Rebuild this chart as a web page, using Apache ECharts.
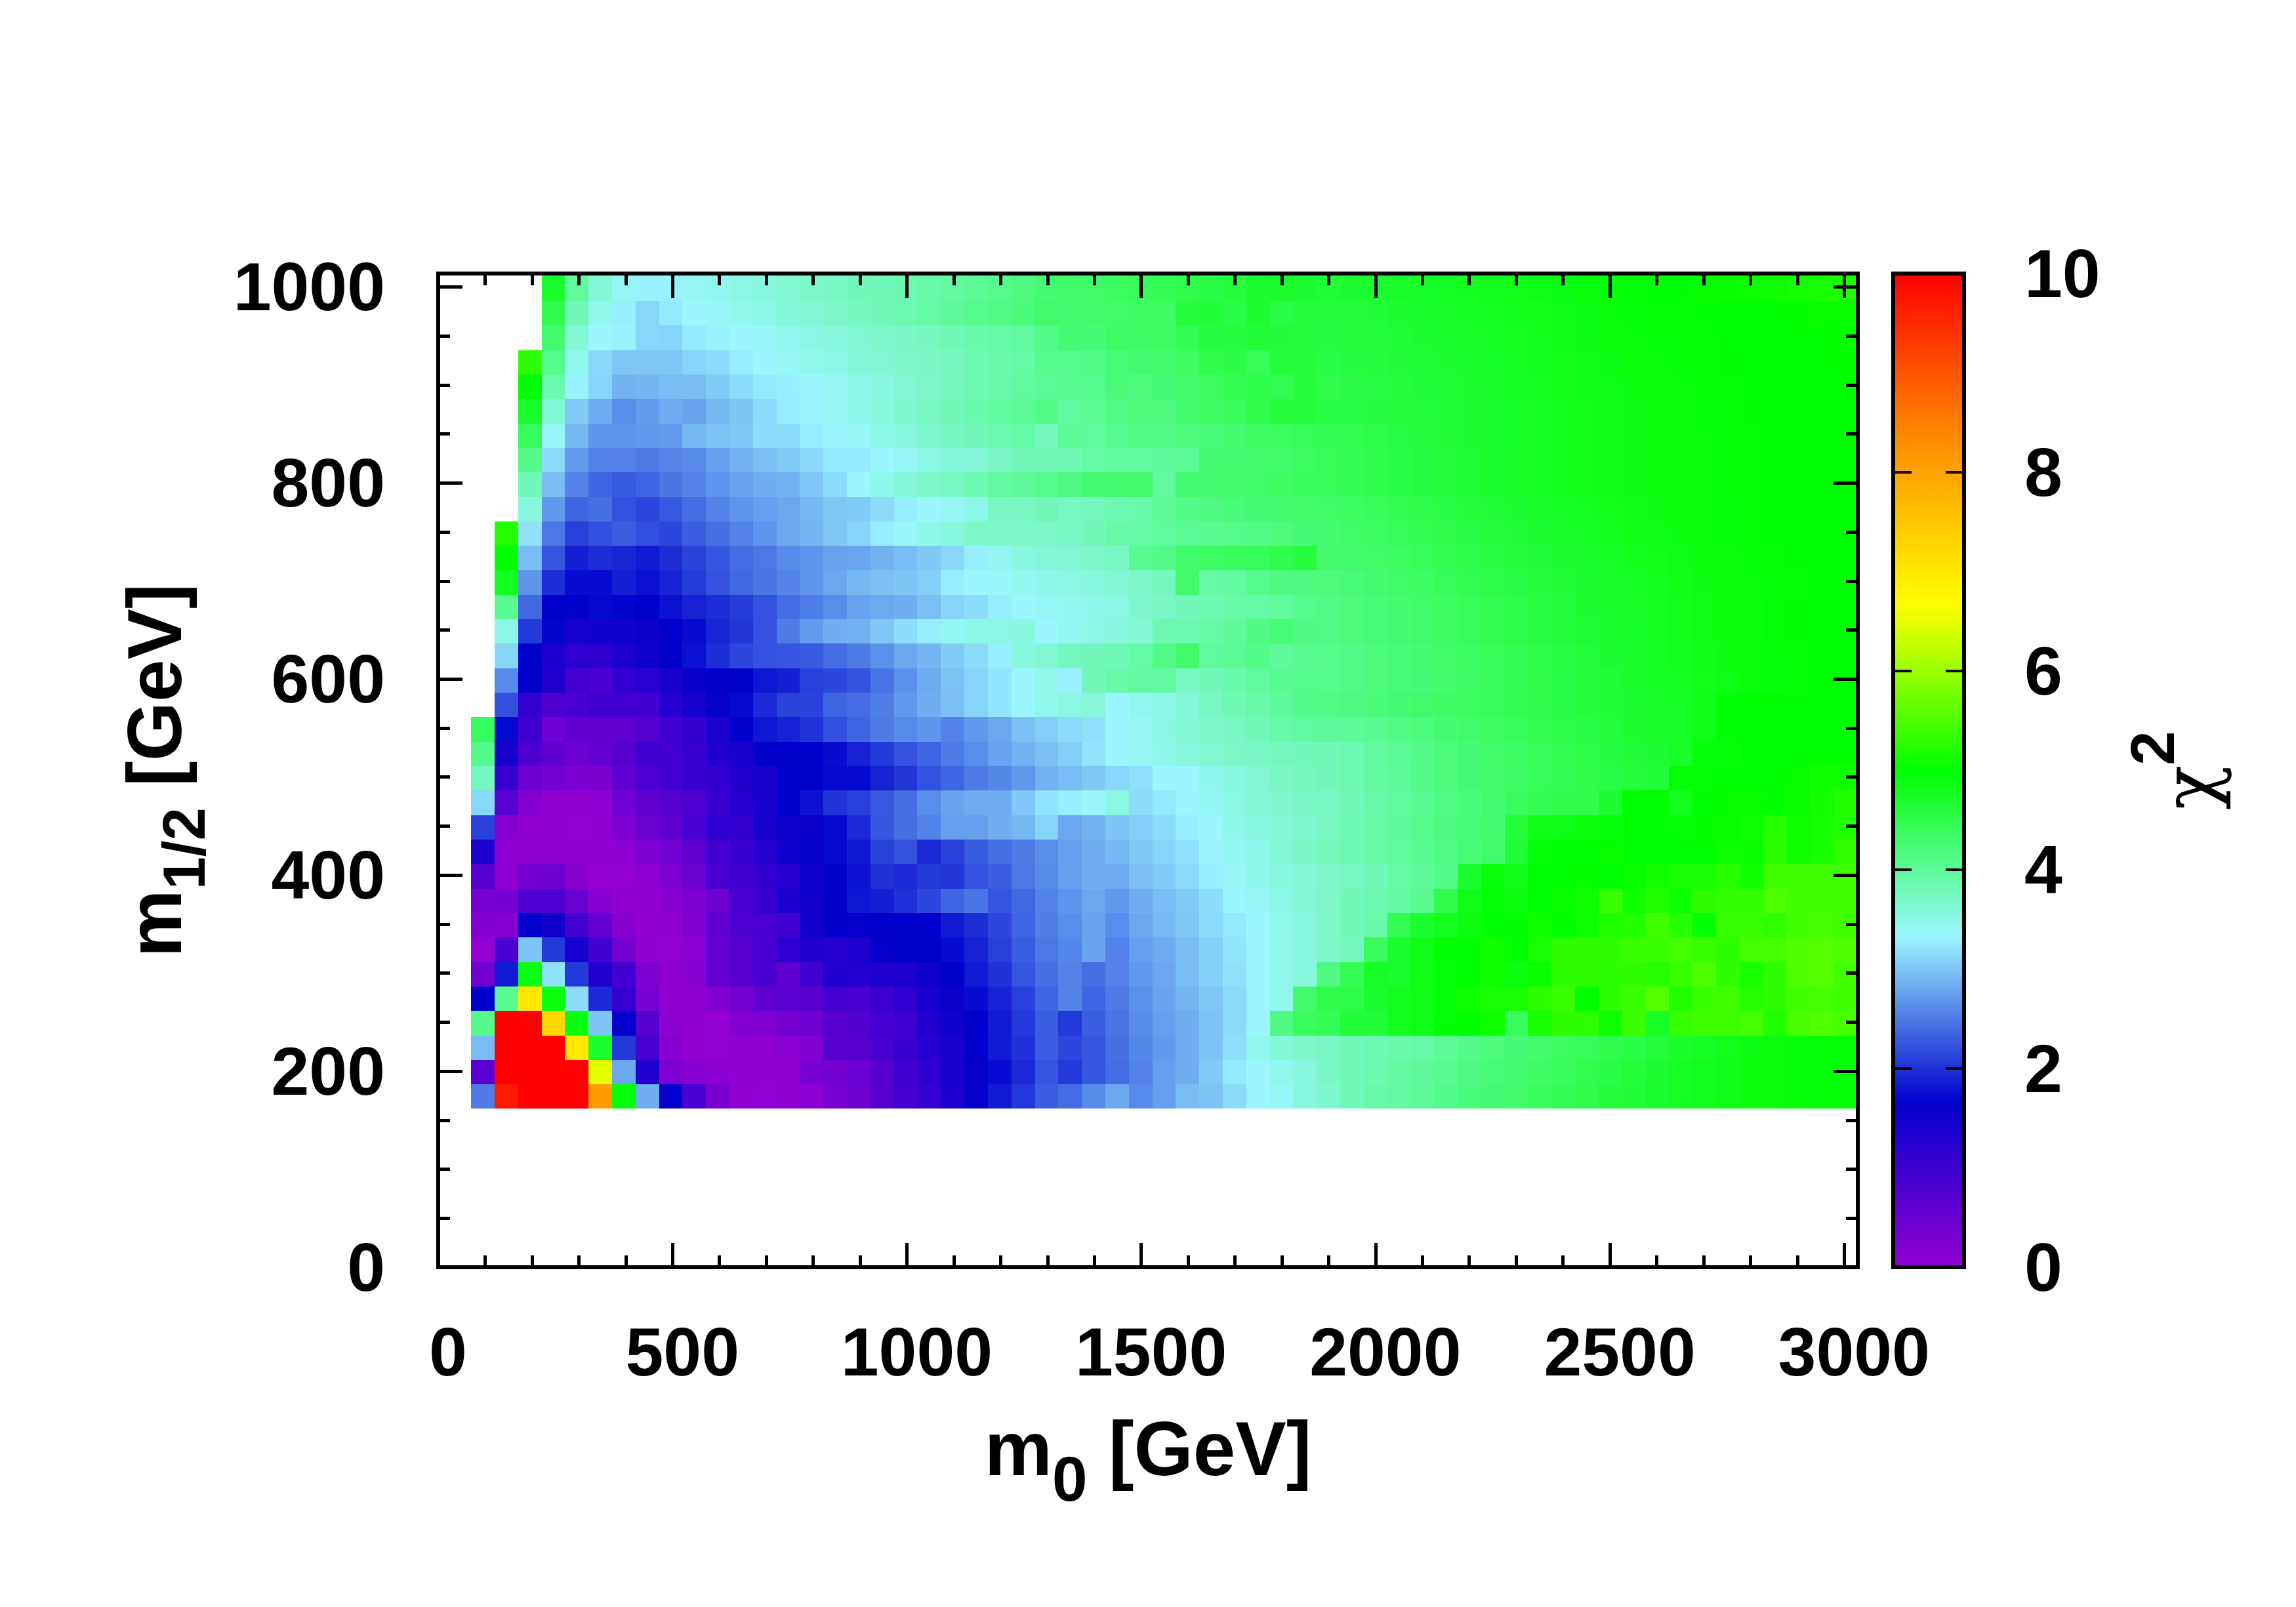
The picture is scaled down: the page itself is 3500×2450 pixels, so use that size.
<!DOCTYPE html>
<html><head><meta charset="utf-8">
<style>html,body{margin:0;padding:0;background:#fff}#c{width:3500px;height:2450px}</style>
<script src="https://cdn.jsdelivr.net/npm/echarts@6/dist/echarts.min.js"></script>
</head><body><div id="c"></div>
<script>
// chi^2 values, one array per m1/2 row (bottom to top), one value per m0 column (left to right).
const _ = null;
const row00=[2.5,9.7,10,10,10,8.1,4.95,2.85,1.6,.85,.3,.05,0,.05,.1,.3,.45,.7, .9,1.1,1.35,1.6,1.85,2.05,2.3,2.4,2.6,2.8,2.6,2.75,2.95,3.0,3.15,3.33,3.4,3.55, 3.65,3.8,3.9,3.95,4.0,4.1,4.2,4.25,4.3,4.4,4.45,4.5,4.6,4.65,4.7,4.75,4.8,4.85,4.9,4.92,4.95,4.97,4.97];
const row01=[.65,10,10,10,10,6.47,2.8,1.3,.25,.15,.1,.05,.05,.05,.3,.35,.5,.7, .95,1.15,1.4,1.6,1.75,1.95,2.25,2.05,2.25,2.4,2.55,2.75,2.85,3.05,3.25,3.33,3.45,3.55, 3.7,3.8,3.85,3.95,3.98,4.05,4.15,4.22,4.28,4.35,4.4,4.48,4.55,4.62,4.68,4.75,4.8,4.85,4.9,4.93,4.95,4.97,4.97];
const row02=[2.95,10,10,10,7.0,4.7,2.05,.85,.15,.05,.02,.03,.05,.1,.2,.7,.7,.85, 1.05,1.25,1.4,1.65,1.85,2.0,2.3,2.15,2.25,2.42,2.58,2.7,2.85,3.0,3.18,3.45,3.6,3.68, 3.72,3.78,3.85,3.88,3.92,4.0,4.1,4.18,4.25,4.3,4.38,4.42,4.5,4.55,4.62,4.7,4.76,4.82,4.88,4.92,4.95,4.97,4.97];
const row03=[4.1,10,10,7.25,4.9,3.0,1.6,.7,.1,.05,0,.2,.25,.35,.45,.7,.75,.9, 1.0,1.3,1.5,1.67,1.85,2.05,2.3,2.05,2.3,2.45,2.6,2.75,2.85,3.0,3.15,3.33,4.15,4.4, 4.45,4.65,4.63,4.8,4.85,4.97,5.0,5.1,4.4,5.15,5.3,5.28,5.1,5.38,4.75,5.35,5.4,5.4,5.45,5.2,5.47,5.52,5.47];
const row04=[1.67,4.05,7.0,4.9,3.15,1.95,1.05,.3,.05,.05,.2,.35,.6,.65,.7,.9,.85,1.0, 1.15,1.4,1.55,1.75,1.9,2.1,2.35,2.55,2.35,2.5,2.65,2.78,2.9,3.02,3.15,3.33,3.45,4.3, 4.5,4.52,4.7,4.8,4.87,4.95,5.1,5.15,5.15,5.28,5.38,5.0,5.28,5.38,5.55,5.2,5.38,5.4,5.25,5.3,5.4,5.45,5.42];
const row05=[.4,1.85,4.87,3.2,2.05,1.3,.9,.25,.05,.12,.55,.7,.85,.6,.95,1.3,1.28,1.32, 1.35,1.5,1.67,1.85,2.0,2.25,2.42,2.55,2.42,2.55,2.7,2.8,2.95,3.08,3.2,3.33,3.45,3.55, 4.15,4.45,4.75,4.7,4.85,4.95,5.0,5.1,4.9,5.05,5.3,5.3,5.28,5.3,5.25,5.35,5.5,5.3,5.15,5.3,5.5,5.55,5.42];
const row06=[0,.85,3.0,2.05,1.4,.95,.35,.05,0,.1,.55,.7,.85,1.15,1.3,1.25,1.35,1.6, 1.67,1.67,1.75,1.9,2.1,2.3,2.48,2.58,2.78,2.55,2.75,2.83,2.95,3.08,3.22,3.33,3.45,3.55, 3.68,3.75,4.4,4.7,4.85,5.0,5.0,5.1,5.0,5.15,5.3,5.3,5.3,5.38,5.38,5.45,5.38,5.3,5.45,5.45,5.5,5.55,5.5];
const row07=[.2,.15,1.67,1.45,.9,.55,.15,.05,.05,.2,.6,.8,.85,.95,1.45,1.65,1.6,1.67, 1.67,1.67,1.85,1.98,2.15,2.35,2.52,2.62,2.78,2.62,2.8,2.93,3.02,3.15,3.25,3.33,3.45,3.55, 3.68,3.8,3.88,4.45,4.7,4.8,4.9,5.0,5.0,5.1,5.0,5.08,5.2,5.22,5.42,5.25,5.02,5.35,5.35,5.32,5.42,5.45,5.42];
const row08=[.3,.35,.8,.8,.5,.12,.05,.05,.12,.25,.45,.85,1.05,1.35,1.45,1.65,1.82,1.88, 2.0,2.15,2.35,2.45,2.25,2.38,2.55,2.67,2.8,2.7,2.85,2.95,3.05,3.17,3.33,3.4,3.5,3.6, 3.68,3.78,3.85,3.95,4.05,4.5,4.85,4.97,4.9,5.0,5.05,5.1,5.38,5.1,5.2,5.1,5.3,5.33,5.33,5.5,5.42,5.42,5.4];
const row09=[.7,.05,.35,.4,.15,0,0,.08,.25,.45,.85,.95,1.12,1.25,1.5,1.67,1.8,2.0, 1.95,2.05,2.03,2.22,2.3,2.48,2.6,2.75,2.85,2.83,2.97,3.05,3.15,3.28,3.38,3.48,3.55,3.6, 3.66,3.72,3.8,3.93,4.0,4.1,4.7,4.92,4.85,5.0,5.0,5.02,5.0,5.03,5.12,5.15,5.15,5.25,5.1,5.42,5.42,5.42,5.42];
const row10=[1.35,.03,.03,.03,.03,.03,.08,.25,.4,.6,.9,1.05,1.25,1.5,1.62,1.72,1.83,2.12, 2.22,1.95,2.1,2.28,2.42,2.5,2.62,2.75,2.85,2.92,3.03,3.1,3.2,3.33,3.42,3.5,3.6,3.7, 3.76,3.82,3.9,3.97,4.05,4.12,4.22,4.3,4.65,4.97,5.0,5.0,5.03,5.0,5.0,5.0,5.0,5.08,5.05,5.3,5.1,5.15,5.32];
const row11=[2.1,.15,.03,.03,0,.05,.25,.45,.6,.85,1.15,1.1,1.4,1.5,1.55,1.72,1.95,2.25, 2.42,2.55,2.75,2.75,2.85,2.92,3.1,2.8,2.87,3.0,3.07,3.15,3.28,3.33,3.47,3.55,3.6,3.65, 3.72,3.82,3.9,3.98,4.08,4.15,4.22,4.27,4.62,4.87,4.87,4.93,4.95,5.0,5.0,4.97,5.02,5.03,5.08,5.25,5.1,5.15,5.2];
const row12=[3.13,.65,.2,.05,.05,.08,.4,.6,.72,.8,1.05,1.25,1.4,1.67,1.8,2.02,2.11,2.27, 2.42,2.62,2.77,2.83,2.83,3.03,3.22,3.28,3.35,3.52,3.17,3.25,3.33,3.42,3.52,3.6,3.64,3.7, 3.72,3.8,3.9,3.97,4.05,4.12,4.2,4.27,4.4,4.45,4.5,4.5,4.68,5.0,5.0,4.8,5.0,5.03,5.03,5.0,5.05,5.12,5.2];
const row13=[3.75,1.05,.45,.35,.27,.27,.6,.8,.9,1.05,1.12,1.3,1.4,1.67,1.67,1.72,1.73,1.9, 2.03,2.22,2.35,2.5,2.58,2.7,2.87,2.95,3.03,3.12,3.2,3.33,3.33,3.47,3.55,3.62,3.69,3.74, 3.77,3.85,3.95,4.0,4.1,4.18,4.25,4.3,4.35,4.42,4.45,4.5,4.55,4.6,4.65,4.97,4.98,5.0,5.0,5.0,5.03,5.1,5.1];
const row14=[4.1,1.4,.8,.6,.45,.55,.7,.95,.9,1.05,1.3,1.4,1.65,1.67,1.67,1.75,1.9,2.05, 2.22,2.35,2.5,2.62,2.77,2.87,2.97,3.07,3.22,3.33,3.4,3.48,3.55,3.63,3.68,3.72,3.75,3.77, 3.8,3.85,3.95,4.02,4.1,4.18,4.25,4.32,4.37,4.42,4.47,4.52,4.58,4.63,4.68,4.73,4.95,4.95,5.0,5.0,5.0,5.0,5.0];
const row15=[4.4,1.72,.95,.4,.6,.6,.6,.72,.92,1.1,1.35,1.65,1.82,1.9,2.02,2.2,2.35,2.5, 2.6,2.68,2.55,2.7,2.8,2.97,3.07,3.15,3.2,3.33,3.4,3.52,3.6,3.68,3.72,3.78,3.9,3.96, 3.98,4.0,4.05,4.12,4.18,4.25,4.32,4.38,4.42,4.47,4.52,4.55,4.62,4.68,4.72,4.75,4.85,5.0,5.0,5.0,5.0,5.0,5.0];
const row16=[_,2.2,1.1,.8,.85,.92,.92,.9,1.25,1.4,1.6,1.72,1.95,2.12,2.12,2.35,2.4,2.52, 2.7,2.85,2.97,3.1,3.22,3.33,3.45,3.52,3.56,3.33,3.45,3.5,3.58,3.72,3.82,3.9,3.98,4.1, 4.12,4.15,4.2,4.25,4.3,4.35,4.38,4.42,4.47,4.5,4.55,4.6,4.65,4.68,4.72,4.75,4.85,5.0,5.0,5.0,5.0,5.0,5.0];
const row17=[_,2.6,1.67,1.3,.9,.85,1.1,1.22,1.38,1.58,1.65,1.67,1.82,1.88,2.1,2.15,2.23,2.45, 2.65,2.83,2.98,3.1,3.22,3.33,3.45,3.3,3.77,3.9,3.95,3.95,3.72,3.8,3.88,3.97,4.05,4.08, 4.08,4.12,4.18,4.22,4.25,4.3,4.35,4.4,4.45,4.5,4.55,4.6,4.65,4.7,4.75,4.78,4.82,4.87,4.92,4.95,4.98,5.0,5.0];
const row18=[_,3.1,1.67,1.35,1.18,1.18,1.35,1.5,1.67,1.78,1.98,2.15,2.22,2.25,2.28,2.4,2.5,2.65, 2.8,2.9,3.05,3.15,3.28,3.55,3.62,3.75,3.78,3.82,3.93,4.12,4.3,3.97,4.02,4.1,3.98,4.05, 4.08,4.12,4.18,4.22,4.27,4.32,4.37,4.42,4.47,4.52,4.57,4.62,4.67,4.72,4.77,4.8,4.85,4.88,4.93,4.95,4.98,5.0,5.0];
const row19=[_,3.5,2.05,1.7,1.42,1.47,1.47,1.52,1.65,1.75,1.92,2.03,2.22,2.5,2.72,2.85,2.87,3.03, 3.17,3.28,3.42,3.5,3.52,3.55,3.32,3.42,3.47,3.55,3.6,3.83,3.87,3.92,3.98,4.13,4.22,4.13, 4.12,4.17,4.22,4.27,4.32,4.37,4.42,4.47,4.52,4.57,4.62,4.66,4.7,4.74,4.78,4.82,4.86,4.9,4.94,4.97,4.99,5.0,5.0];
const row20=[_,4.05,2.38,1.67,1.67,1.72,1.7,1.67,1.78,1.9,1.97,2.07,2.22,2.4,2.52,2.62,2.77,2.82, 2.85,2.97,3.1,3.17,3.27,3.33,3.4,3.43,3.48,3.52,3.65,3.7,3.77,3.83,3.9,3.93,3.97,4.08, 4.12,4.17,4.22,4.27,4.32,4.37,4.42,4.47,4.52,4.57,4.62,4.67,4.7,4.73,4.78,4.82,4.86,4.9,4.94,4.97,4.99,5.0,5.0];
const row21=[_,4.8,2.68,1.98,1.75,1.75,1.88,1.78,1.9,2.07,2.22,2.38,2.47,2.55,2.68,2.8,2.92,2.97, 3.0,3.07,3.27,3.33,3.37,3.43,3.47,3.52,3.55,3.62,3.67,3.75,4.3,3.92,3.95,4.08,4.13,4.15, 4.18,4.22,4.27,4.32,4.37,4.42,4.47,4.52,4.56,4.6,4.64,4.68,4.72,4.76,4.8,4.84,4.88,4.9,4.93,4.96,4.98,5.0,5.0];
const row22=[_,5.0,2.95,2.25,1.88,1.97,1.92,1.85,1.97,2.12,2.25,2.4,2.48,2.6,2.68,2.78,2.79,2.87, 2.95,3.03,3.13,3.28,3.42,3.55,3.58,3.62,3.67,3.72,4.05,4.12,4.3,4.35,4.4,4.42,4.5,4.6, 4.3,4.3,4.33,4.37,4.42,4.47,4.52,4.57,4.6,4.63,4.67,4.7,4.75,4.8,4.83,4.87,4.9,4.92,4.96,4.98,5.0,5.0,5.0];
const row23=[_,5.25,3.2,2.48,2.1,2.2,2.3,2.2,2.15,2.3,2.42,2.55,2.68,2.8,2.9,3.02,3.1,3.27, 3.38,3.48,3.55,3.67,3.67,3.68,3.68,3.72,3.77,3.9,3.93,3.97,4.02,4.04,4.08,4.12,4.17,4.25, 4.28,4.32,4.37,4.42,4.46,4.5,4.55,4.6,4.64,4.68,4.72,4.76,4.8,4.84,4.86,4.9,4.92,4.95,4.97,5.0,5.0,5.0,5.0];
const row24=[_,_,3.55,2.7,2.35,2.42,2.22,2.15,2.27,2.4,2.55,2.68,2.75,2.8,2.92,3.02,3.05,3.16, 3.27,3.33,3.4,3.5,3.72,3.72,3.77,3.72,3.75,3.83,3.88,4.02,4.1,4.15,4.2,4.25,4.27,4.3, 4.33,4.37,4.4,4.45,4.5,4.55,4.6,4.64,4.68,4.72,4.75,4.78,4.82,4.85,4.88,4.9,4.93,4.95,4.97,5.0,5.0,5.0,5.0];
const row25=[_,_,3.77,2.95,2.55,2.35,2.28,2.35,2.47,2.55,2.67,2.77,2.85,2.87,3.02,3.15,3.33,3.47, 3.58,3.68,3.72,3.85,3.95,3.98,4.08,4.15,4.27,4.27,4.3,3.97,4.27,4.27,4.3,4.33,4.36,4.4, 4.42,4.45,4.5,4.55,4.58,4.62,4.66,4.7,4.73,4.76,4.8,4.83,4.86,4.88,4.9,4.92,4.94,4.96,4.98,5.0,5.0,5.0,5.0];
const row26=[_,_,4.1,3.15,2.72,2.55,2.55,2.5,2.57,2.6,2.75,2.87,2.97,3.05,3.13,3.25,3.26,3.33, 3.4,3.52,3.58,3.6,3.7,3.77,3.77,3.83,3.92,3.97,3.97,3.98,4.02,4.27,4.27,4.3,4.33,4.38, 4.42,4.45,4.5,4.55,4.58,4.62,4.66,4.7,4.73,4.77,4.8,4.83,4.86,4.88,4.9,4.92,4.94,4.96,4.98,5.0,5.0,5.0,5.0];
const row27=[_,_,4.4,3.38,2.92,2.68,2.68,2.7,2.72,2.92,2.98,3.03,3.15,3.15,3.27,3.33,3.4,3.49, 3.55,3.65,3.73,3.77,3.85,3.93,3.75,4.02,3.97,4.07,4.12,4.12,4.17,4.22,4.27,4.35,4.38,4.42, 4.45,4.48,4.52,4.56,4.6,4.64,4.67,4.7,4.74,4.77,4.8,4.83,4.86,4.88,4.9,4.92,4.94,4.96,4.98,5.0,5.0,5.0,5.0];
const row28=[_,_,4.7,3.62,3.05,2.83,2.62,2.72,2.83,2.78,2.92,3.0,3.15,3.27,3.33,3.4,3.5,3.55, 3.65,3.72,3.77,3.88,3.97,4.02,4.12,3.97,4.03,4.12,4.17,4.17,4.3,4.35,4.4,4.5,4.6,4.6, 4.55,4.56,4.58,4.6,4.62,4.65,4.68,4.71,4.74,4.77,4.8,4.83,4.86,4.88,4.9,4.93,4.95,4.97,4.99,5,5,5,5];
const row29=[_,_,5.0,3.85,3.3,3.1,2.87,2.9,2.95,2.95,3.05,3.15,3.25,3.28,3.33,3.4,3.49,3.54, 3.62,3.67,3.75,3.83,3.88,3.97,4.02,4.05,4.07,4.22,4.17,4.25,4.3,4.38,4.47,4.52,4.47,4.6, 4.5,4.53,4.56,4.6,4.63,4.66,4.69,4.72,4.75,4.78,4.81,4.84,4.87,4.9,4.92,4.94,4.96,4.98,5,5,5,5,5];
const row30=[_,_,5.3,4.08,3.45,3.13,3.02,3.02,3.02,3.1,3.15,3.27,3.33,3.4,3.45,3.5,3.58,3.62, 3.68,3.7,3.73,3.83,3.88,3.93,4.08,4.08,4.12,4.22,4.27,4.3,4.35,4.5,4.53,4.43,4.62,4.6, 4.55,4.58,4.6,4.63,4.66,4.68,4.71,4.74,4.77,4.8,4.83,4.86,4.89,4.92,4.94,4.96,4.97,4.99,5,5,5,5,5.02];
const row31=[_,_,_,4.27,3.6,3.33,3.3,3.12,3.1,3.25,3.3,3.33,3.37,3.45,3.52,3.55,3.62,3.66, 3.7,3.73,3.83,3.88,3.93,3.97,4.1,4.25,4.25,4.35,4.35,4.38,4.45,4.58,4.6,4.63,4.63,4.62, 4.58,4.6,4.62,4.65,4.68,4.7,4.73,4.76,4.79,4.82,4.85,4.88,4.91,4.94,4.96,4.97,4.98,5,5,5,5,5,5.02];
const row32=[_,_,_,4.5,3.77,3.45,3.28,3.12,3.25,3.33,3.38,3.45,3.5,3.58,3.62,3.67,3.74,3.78, 3.85,3.93,3.98,4.07,4.12,4.2,4.3,4.27,4.3,4.32,4.35,4.36,4.6,4.65,4.55,4.68,4.55,4.6, 4.6,4.62,4.64,4.67,4.7,4.72,4.75,4.78,4.8,4.83,4.86,4.89,4.92,4.95,4.97,4.98,5,5,5,5,5.02,5.03,5.05];
const row33=[_,_,_,4.7,3.97,3.58,3.4,3.3,3.3,3.4,3.45,3.52,3.57,3.63,3.68,3.72,3.78,3.81, 3.85,3.9,3.95,4.02,4.08,4.15,4.25,4.3,4.33,4.38,4.42,4.46,4.5,4.55,4.6,4.68,4.7,4.68, 4.65,4.67,4.7,4.72,4.74,4.76,4.78,4.8,4.83,4.86,4.89,4.92,4.95,4.97,5.0,5.0,5.03,5.05,5.08,5.1,5.13,5.15,5.18];
const chi2Rows=[row00,row01,row02,row03,row04,row05,row06,row07,row08,row09,row10,row11,row12,row13,row14,row15,row16,row17,row18,row19,row20,row21,row22,row23,row24,row25,row26,row27,row28,row29,row30,row31,row32,row33];

// Axis ranges and tick labels
const m0Start=70.2, m0Step=50.12, m0Max=3029;
const m12Start=161.6, m12Step=24.97, m12Max=1013.7;
const m0Major=[0,500,1000,1500,2000,2500,3000];
const m0Minor=[100,200,300,400,600,700,800,900,1100,1200,1300,1400,1600,1700,1800,1900,2100,2200,2300,2400,2600,2700,2800,2900];
const m12Major=[0,200,400,600,800,1000];
const m12Minor=[50,100,150,250,300,350,450,500,550,650,700,750,850,900,950];
const chi2Major=[0,2,4,6,8,10];
const palette=['#9400d3','#0000cd','#9cf6ff','#00ff00','#ffff00','#ff8c00','#ff0000'];

const FONT='"Liberation Sans"';
const cells=[];
chi2Rows.forEach((row,j)=>row.forEach((v,i)=>{
  if(v===null) return;
  const top=j===chi2Rows.length-1?m12Max:m12Start+(j+1)*m12Step;
  cells.push([m0Start+i*m0Step,m12Start+j*m12Step,m0Start+(i+1)*m0Step,top,v]);
}));

const titleRich={
  m:{fontFamily:FONT,fontWeight:'bold',fontSize:116,lineHeight:130,color:'#000'},
  s:{fontFamily:FONT,fontWeight:'bold',fontSize:97,lineHeight:130,padding:[88,0,0,0],color:'#000'},
  f:{fontFamily:FONT,fontWeight:'bold',fontSize:90,lineHeight:130,padding:[86,0,0,0],color:'#000'},
  c:{fontFamily:'"DejaVu Serif"',fontSize:112,lineHeight:130,color:'#000'},
  p:{fontFamily:FONT,fontWeight:'bold',fontSize:94,lineHeight:130,padding:[0,0,120,0],color:'#000'}
};
const hiddenLine={show:false,onZero:false};
const tick=(vals,len,w)=>({show:true,inside:true,length:len,customValues:vals,lineStyle:{color:'#000',width:w}});
function xA(pos,vals,len,min,max,extra,grid){
  return Object.assign({type:'value',gridIndex:grid||0,position:pos,min,max,z:5,splitLine:{show:false},
    axisLine:hiddenLine,axisLabel:{show:false},axisTick:tick(vals,len,5)},extra||{});
}
function yA(pos,vals,len,min,max,extra,grid,w){
  return Object.assign({type:'value',gridIndex:grid||0,position:pos,min,max,z:5,splitLine:{show:false},
    axisLine:hiddenLine,axisLabel:{show:false},axisTick:tick(vals,len,w||5)},extra||{});
}
const line={show:true,onZero:false,lineStyle:{color:'#000',width:6,cap:'square'}};
const labelStyle={show:true,color:'#000',fontFamily:FONT,fontWeight:'bold',fontSize:104,formatter:v=>String(v)};
// y labels sit a little below their tick in the reference
const yLabelStyle=Object.assign({},labelStyle,{formatter:v=>'{a|'+v+'}',
  rich:{a:{color:'#000',fontFamily:FONT,fontWeight:'bold',fontSize:104,lineHeight:120,padding:[14,0,0,0]}}});

const option={
  backgroundColor:'#fff',animation:false,
  grid:[{left:668,top:417,width:2164,height:1515,outerBoundsMode:'none'},{left:2886,top:417,width:108,height:1515,outerBoundsMode:'none'}],
  visualMap:{type:'continuous',seriesIndex:0,dimension:4,min:0,max:10,calculable:false,hoverLink:false,
    left:2886,top:417,itemWidth:108,itemHeight:1515,padding:0,text:null,showLabel:false,z:1,
    inRange:{color:palette}},
  xAxis:[
    xA('bottom',m0Major,37,0,m0Max,{axisLine:line,
      axisLabel:Object.assign({},labelStyle,{customValues:m0Major,margin:84,padding:[0,0,0,30]}),
      name:'{m|m}{s|0}{m| [GeV]}',nameLocation:'middle',nameGap:205,nameTextStyle:{rich:titleRich}}),
    xA('bottom',m0Minor,18,0,m0Max),
    xA('top',m0Major,37,0,m0Max,{axisLine:line}),
    xA('top',m0Minor,18,0,m0Max),
    {type:'value',gridIndex:1,position:'bottom',min:0,max:1,z:5,axisLine:line,axisTick:{show:false},axisLabel:{show:false},splitLine:{show:false}},
    {type:'value',gridIndex:1,position:'top',min:0,max:1,z:5,axisLine:line,axisTick:{show:false},axisLabel:{show:false},splitLine:{show:false}}
  ],
  yAxis:[
    yA('left',m12Major,37,0,m12Max,{axisLine:line,
      axisLabel:Object.assign({},yLabelStyle,{customValues:m12Major,margin:81}),
      name:'{m|m}{f|1/2}{m| [GeV]}',nameLocation:'middle',nameRotate:90,nameGap:359,nameTextStyle:{rich:titleRich}}),
    yA('left',m12Minor,18,0,m12Max),
    yA('right',m12Major,37,0,m12Max,{axisLine:line}),
    yA('right',m12Minor,18,0,m12Max),
    yA('left',chi2Major,28,0,10,{axisLine:line},1,4),
    yA('right',chi2Major,28,0,10,{axisLine:line,
      axisLabel:Object.assign({},yLabelStyle,{customValues:chi2Major,margin:92}),
      name:'{c|χ}{p|2}',nameLocation:'middle',nameRotate:90,nameGap:289,nameTextStyle:{rich:titleRich}},1,4)
  ],
  series:[{
    type:'custom',xAxisIndex:0,yAxisIndex:0,coordinateSystem:'cartesian2d',clip:true,silent:true,z:2,
    encode:{x:[0,2],y:[1,3]},data:cells,
    renderItem(params,api){
      const a=api.coord([api.value(0),api.value(1)]);
      const b=api.coord([api.value(2),api.value(3)]);
      const x0=Math.round(a[0]),x1=Math.round(b[0]),y0=Math.round(a[1]),y1=Math.round(b[1]);
      return {type:'rect',shape:{x:x0,y:y1,width:x1-x0,height:y0-y1},style:{fill:api.visual('color')}};
    }
  }]
};
echarts.init(document.getElementById('c')).setOption(option);
</script></body></html>
